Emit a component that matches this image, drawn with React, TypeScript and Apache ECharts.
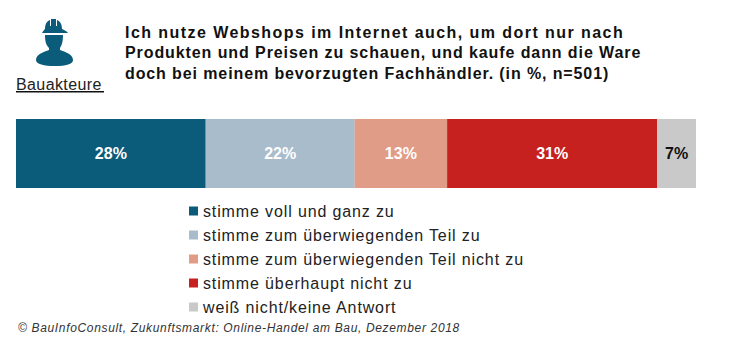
import React, { useEffect, useRef } from "react";
import * as echarts from "echarts";

const categories = ["Bauakteure"];
const seriesNames = [
  "stimme voll und ganz zu",
  "stimme zum überwiegenden Teil zu",
  "stimme zum überwiegenden Teil nicht zu",
  "stimme überhaupt nicht zu",
  "weiß nicht/keine Antwort",
];
const values = [27.9, 21.9, 13.6, 30.9, 5.7];
const valueLabels = ["28%", "22%", "13%", "31%", "7%"];
const colors = ["#0b5c7b", "#a8bccb", "#e09c86", "#c6211f", "#c9c9c9"];
const labelColors = ["#ffffff", "#ffffff", "#ffffff", "#ffffff", "#111111"];
const titleLines = [
  "Ich nutze Webshops im Internet auch, um dort nur nach",
  "Produkten und Preisen zu schauen, und kaufe dann die Ware",
  "doch bei meinem bevorzugten Fachhändler. (in %, n=501)",
];
const titleSpacing = [1.44, 0.91, 0.89];
const groupLabel = "Bauakteure";
const source = "© BauInfoConsult, Zukunftsmarkt: Online-Handel am Bau, Dezember 2018";

echarts.graphic.registerShape(
  "worker",
  echarts.graphic.extendPath(
    "M42 33 C43 31 44 30 45 29 C45 24 47 21 50 20 L50 26 L51 26 L51 19 L56 19 L56 26 L57 26 L57 20 C60 21 62 24 62 29 C64 30 67 31 68 33 L42 33 Z " +
      "M45 35 L63 35 C63 41 62 45 60 48 L60 50 C65 52 73 54 73 60 C73 64 66 66 55 66 C44 66 36 64 36 60 C36 54 44 52 49 50 L49 48 C46 45 45 41 45 35 Z",
    {}
  )
);

export default function App() {
  const ref = useRef<HTMLDivElement>(null);
  useEffect(() => {
    const chart = echarts.init(ref.current!, null, { renderer: "svg" });
    chart.setOption({
      animation: false,
      backgroundColor: "#ffffff",
      grid: { left: 16, right: 34, top: 119, height: 69, containLabel: false },
      xAxis: { type: "value", min: 0, max: 100, show: false },
      yAxis: { type: "category", data: categories, show: false },
      legend: {
        orient: "vertical",
        left: 184,
        top: 197,
        itemWidth: 9,
        itemHeight: 9,
        itemGap: 6,
        icon: "rect",
        selectedMode: false,
        textStyle: {
          fontFamily: "Liberation Sans",
          fontSize: 16,
          color: "#222222",
          lineHeight: 18,
        },
        data: seriesNames,
      },
      series: seriesNames.map((name, i) => ({
        name,
        type: "bar",
        stack: "total",
        barWidth: 69,
        data: [values[i]],
        itemStyle: { color: colors[i] },
        label: {
          show: true,
          position: "inside",
          formatter: valueLabels[i],
          color: labelColors[i],
          fontFamily: "Liberation Sans",
          fontSize: 16,
          fontWeight: "bold",
        },
      })),
      graphic: [
        { type: "worker", x: 0, y: 0, style: { fill: "#0b5c7b" } },
        {
          type: "text",
          x: 16,
          y: 76,
          style: { text: groupLabel, font: "16px 'Liberation Sans'", fill: "#222222" },
        },
        { type: "rect", shape: { x: 16, y: 91, width: 88, height: 1.5 }, style: { fill: "#111111" } },
        ...titleLines.map((t, i) => ({
          type: "text",
          x: 125,
          y: 24 + i * 20.5,
          style: { text: t, font: "bold 16px 'Liberation Sans'", fill: "#111111" },
        })),
        ...[0, 1, 2, 3].map((i) => ({
          type: "rect",
          shape: { x: [205, 354, 446.5, 656.5][i], y: 119, width: 1.2, height: 69 },
          style: { fill: "#f2f2f2" },
        })),
        {
          type: "text",
          x: 18,
          y: 322,
          style: { text: source, font: "italic 12px 'Liberation Sans'", fill: "#333333" },
        },
      ],
    });
    const spacing = new Map<string, number>([
      [groupLabel, 0.4],
      [source, 0.66],
      ...titleLines.map((t, i) => [t, titleSpacing[i]] as [string, number]),
      ...seriesNames.map((t) => [t, 0.87] as [string, number]),
    ]);
    const applySpacing = () => {
      ref.current?.querySelectorAll("text").forEach((el) => {
        const s = spacing.get(el.textContent || "");
        if (s) (el as SVGTextElement).style.letterSpacing = s + "px";
      });
    };
    applySpacing();
    chart.on("finished", applySpacing);
    return () => chart.dispose();
  }, []);
  return <div ref={ref} style={{ position: "absolute", left: 0, top: 0, width: 730, height: 352 }} />;
}
